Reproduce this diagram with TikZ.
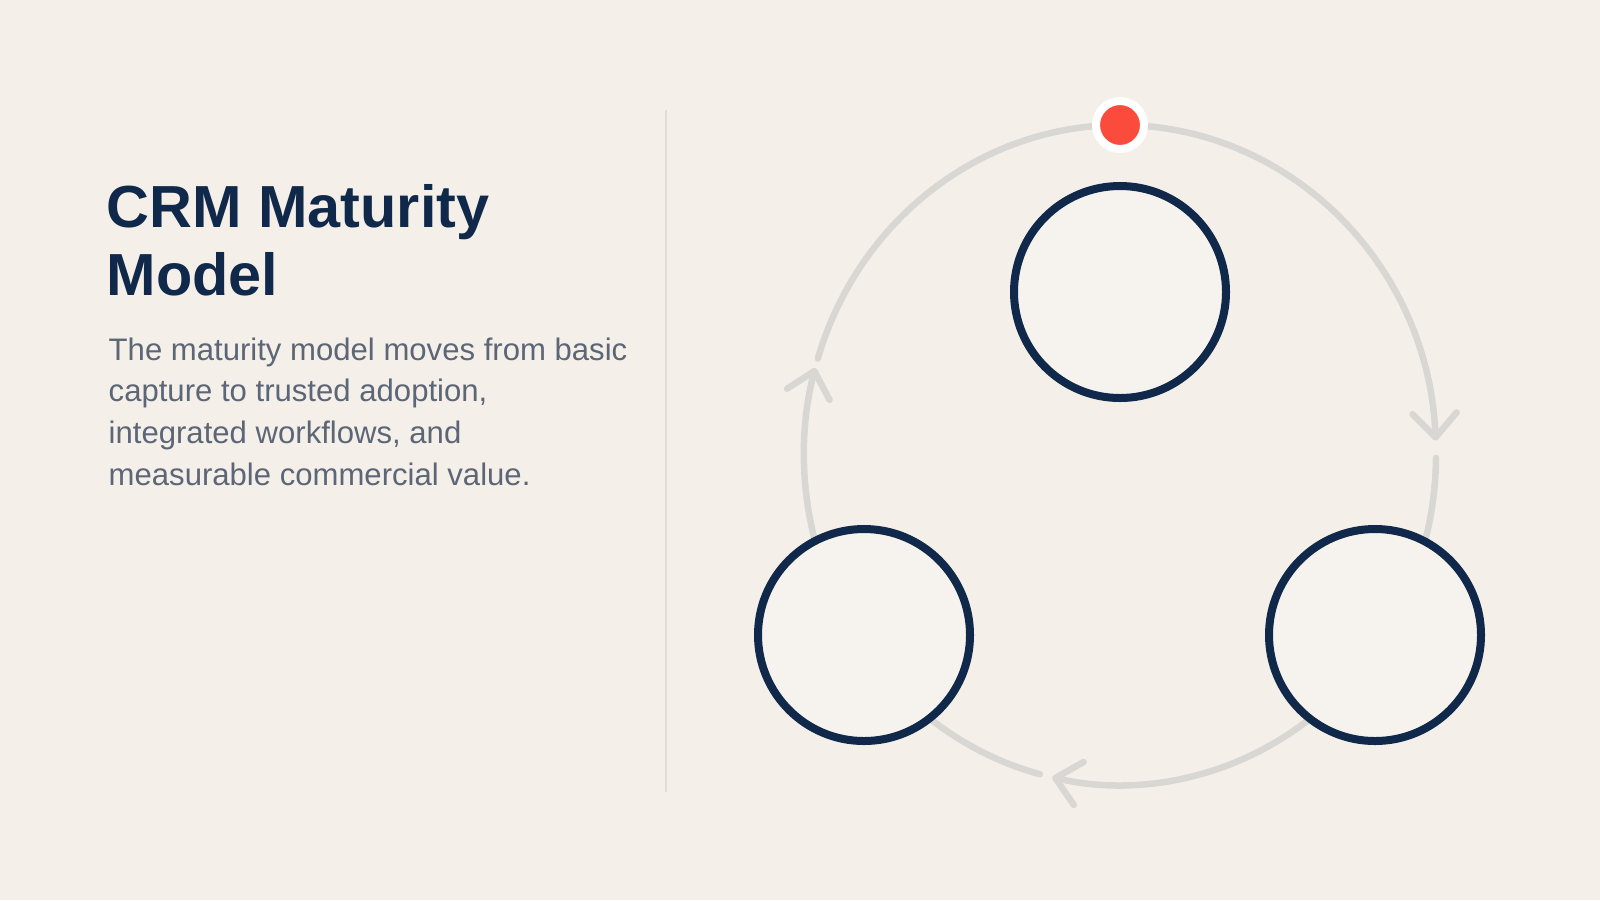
\documentclass[tikz,border=0pt]{standalone}
\usepackage{fontspec}
\setmainfont{Liberation Sans}
\usepackage{xcolor}
\usepackage{tikz}
\usetikzlibrary{arrows.meta,positioning}
\definecolor{paper}{HTML}{F4F0E9}
\definecolor{navy}{HTML}{10284A}
\definecolor{slate}{HTML}{5C6676}
\definecolor{ringgray}{HTML}{D9D7D4}
\definecolor{stagefill}{HTML}{F6F3EF}
\definecolor{divider}{HTML}{E4DCCF}
\definecolor{signal}{HTML}{FA4B3C}

\begin{document}
\begin{tikzpicture}[>={Straight Barb[length=0.24cm,width=0.44cm,round]},
	flow/.style={draw=ringgray,line width=0.065cm,line cap=round},
	stage/.style={circle,draw=navy,line width=0.08cm,fill=stagefill,minimum size=2.12cm,inner sep=0pt},
	marker/.style={circle,fill=signal,draw=white,line width=0.08cm,minimum size=0.48cm,inner sep=0pt},
	headline/.style={anchor=base west,align=left,text=navy,inner sep=0pt,font=\fontsize{16.9pt}{19.3pt}\selectfont\bfseries},
	blurb/.style={anchor=base west,align=left,text=slate,inner sep=0pt,font=\fontsize{8.85pt}{11.85pt}\selectfont}]
			\fill[paper] (0,0) rectangle (16,-9);
			\useasboundingbox (0,0) rectangle (16,-9);

			% base anchor sits on the last line
			\node[headline] (title) at (1.06,-2.95) {CRM Maturity\\Model};
			\node[blurb] (intro) at (1.08,-4.85) {The maturity model moves from basic\\capture to trusted adoption,\\integrated workflows, and\\measurable commercial value.};

			\coordinate (divtop) at (6.66,-1.10);
			\coordinate (divbot) at (6.66,-7.92);
			\draw[divider,line width=0.02cm] (divtop) -- (divbot);

			% cycle ring
			\coordinate (ring) at (11.20,-4.55);
			\draw[flow,->] (ring) ++(90:3.16 and 3.30) arc[start angle=90,end angle=2.5,x radius=3.16,y radius=3.30];
			\draw[flow,->] (ring) ++(-0.5:3.16 and 3.30) arc[start angle=-0.5,end angle=-102.4,x radius=3.16,y radius=3.30];
			\draw[flow,->] (ring) ++(-104.7:3.16 and 3.30) arc[start angle=-104.7,end angle=-195.3,x radius=3.16,y radius=3.30];
			\draw[flow] (ring) ++(-197:3.16 and 3.30) arc[start angle=-197,end angle=-270,x radius=3.16,y radius=3.30];

			\node[stage] (capture) at (11.20,-2.92) {};
			\node[stage] (value) at (8.64,-6.35) {};
			\node[stage] (adoption) at (13.75,-6.35) {};
			\node[marker] (now) at (11.20,-1.25) {};
\end{tikzpicture}
\end{document}
